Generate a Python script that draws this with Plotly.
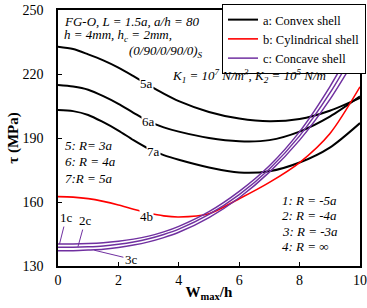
import plotly.graph_objects as go

# ---------------- data ----------------
x_pts = [0, 0.5, 1, 1.5, 2, 2.5, 3, 3.5, 4, 5, 6, 7, 8, 9, 10]

# a: convex shell (R = 3a, 4a, 5a)
tau_5a = [232.8, 231.7, 229.2, 226.4, 223.0, 219.0, 214.8, 210.8, 207.3, 202.2, 199.1, 197.8, 198.9, 202.8, 208.8]
tau_6a = [214.8, 214.1, 212.6, 209.6, 206.0, 201.8, 197.8, 195.0, 193.0, 190.0, 188.5, 189.0, 193.0, 200.0, 209.5]
tau_7a = [203.1, 202.6, 200.8, 197.4, 193.5, 189.0, 185.0, 182.0, 179.8, 176.2, 173.8, 174.4, 178.5, 185.5, 197.0]

# b: cylindrical shell (R = inf)
tau_4b = [162.5, 162.3, 161.6, 160.3, 158.6, 156.6, 154.8, 153.5, 153.0, 154.5, 161.5, 169.2, 178.5, 192.0, 214.0]

# c: concave shell (R = -5a, -4a, -3a)
tau_1c = [140.3, 140.3, 140.5, 140.9, 141.6, 142.6, 144.0, 146.0, 148.6, 155.5, 165.0, 177.0, 193.0, 214.0, 239.0]
tau_2c = [138.8, 138.8, 139.0, 139.4, 140.2, 141.3, 142.8, 144.8, 147.3, 154.2, 163.5, 175.5, 191.0, 211.0, 235.0]
tau_3c = [137.2, 137.2, 137.5, 137.9, 138.7, 139.8, 141.3, 143.3, 145.8, 152.7, 162.0, 174.0, 189.0, 208.0, 231.0]

x_ticks = [0, 2, 4, 6, 8, 10]
y_ticks = [130, 160, 190, 220, 250]

series_a = [("5a", tau_5a), ("6a", tau_6a), ("7a", tau_7a)]
series_c = [("1c", tau_1c), ("2c", tau_2c), ("3c", tau_3c)]

BLACK = "#000000"
RED = "#ff0000"
PURPLE = "#7030a0"
FONT = "Liberation Serif"

fig = go.Figure()

for i, (nm, ys) in enumerate(series_a):
    fig.add_trace(go.Scatter(x=x_pts, y=ys, mode="lines", line=dict(color=BLACK, width=2, shape="spline", smoothing=0.8),
                             name="a: Convex shell", showlegend=(i == 0)))
fig.add_trace(go.Scatter(x=x_pts, y=tau_4b, mode="lines", line=dict(color=RED, width=1.6, shape="spline", smoothing=0.8),
                         name="b: Cylindrical shell"))
for i, (nm, ys) in enumerate(series_c):
    fig.add_trace(go.Scatter(x=x_pts, y=ys, mode="lines", line=dict(color=PURPLE, width=1.5, shape="spline", smoothing=0.8),
                             name="c: Concave shell", showlegend=(i == 0)))

ann = []
# curve labels with white background (creates gaps in lines)
for txt, xx, yy in [("5a", 2.94, 215.6), ("6a", 2.98, 197.6), ("7a", 3.15, 183.6), ("4b", 2.94, 153.1)]:
    ann.append(dict(x=xx, y=yy, text=txt, showarrow=False, bgcolor="white", borderpad=0,
                    font=dict(family=FONT, size=13, color="black")))
# concave labels with leader lines
for txt, tipx, tipy, tx, ty in [("1c", 0.05, 140.3, 0.27, 152.7), ("2c", 0.66, 139.0, 0.9, 151.3), ("3c", 1.2, 137.4, 2.43, 133.2)]:
    ann.append(dict(x=tipx, y=tipy, ax=tx, ay=ty, axref="x", ayref="y", text=txt, showarrow=True,
                    arrowhead=0, arrowwidth=1, arrowcolor=PURPLE, standoff=0,
                    font=dict(family=FONT, size=13, color="black")))

# text notes
def note(text, xpx, ypx, anchor="left"):
    return dict(xref="paper", yref="paper", x=(xpx - 58) / 302, y=(266 - ypx) / 256, text=text,
                showarrow=False, xanchor=anchor, yanchor="middle", font=dict(family=FONT, size=13, color="black"))

ann += [
    note("<i>FG-O, L = 1.5a, a/h = 80</i>", 62, 21),
    note("<i>h = 4mm, h<sub>c</sub> = 2mm,</i>", 62, 35),
    note("<i>(0/90/0/90/0)<sub>S</sub></i>", 205, 51, "right"),
    note("<i>K<sub>1</sub> = 10<sup>7</sup> N/m<sup>3</sup>, K<sub>2</sub> = 10<sup>5</sup> N/m</i>", 170, 76),
    note("<i>5: R= 3a</i>", 63, 145),
    note("<i>6: R = 4a</i>", 63, 161.5),
    note("<i>7:R = 5a</i>", 63, 178),
    note("<i>1: R = -5a</i>", 280, 200),
    note("<i>2: R = -4a</i>", 280, 215.5),
    note("<i>3: R = -3a</i>", 280, 231),
    note("<i>4: R = \u221e</i>", 280, 246.5),
]

# white backing under the legend box so curves disappear behind it
LEG_L, LEG_T, LEG_R, LEG_B = 222, 4, 366, 63
shapes = [dict(type="rect", xref="paper", yref="paper", layer="above",
               x0=(LEG_L - 58) / 302, x1=(LEG_R - 58) / 302,
               y0=(266 - LEG_B) / 256, y1=(266 - LEG_T) / 256,
               fillcolor="white", line=dict(width=0))]

fig.update_layout(
    width=367, height=308,
    margin=dict(l=58, r=7, t=10, b=42, pad=0, autoexpand=False),
    paper_bgcolor="white", plot_bgcolor="white",
    font=dict(family=FONT, size=14, color="black"),
    showlegend=True,
    legend=dict(x=(LEG_L - 58) / 302, y=(266 - LEG_T) / 256, xanchor="left", yanchor="top",
                bgcolor="white", bordercolor="black", borderwidth=1,
                font=dict(family=FONT, size=12.5, color="black"),
                tracegroupgap=0, itemwidth=30),
    annotations=ann,
    shapes=shapes,
    xaxis=dict(range=[0, 10], tickvals=x_ticks, ticks="inside", ticklen=4, tickcolor="black",
               showline=True, linecolor="black", linewidth=1.5, mirror=True, showgrid=False, zeroline=False,
               tickfont=dict(family=FONT, size=14), ticklabelstandoff=0,
               title=dict(text="<b>W<sub>max</sub>/h</b>", font=dict(family=FONT, size=15), standoff=0)),
    yaxis=dict(range=[130, 250], tickvals=y_ticks, ticks="inside", ticklen=4, tickcolor="black",
               showline=True, linecolor="black", linewidth=1.5, mirror=True, showgrid=False, zeroline=False,
               tickfont=dict(family=FONT, size=14), ticklabelstandoff=10,
               title=dict(text="<b>\u03c4 (MPa)</b>", font=dict(family=FONT, size=15), standoff=0)),
)

fig.write_html("out.html", config={"displayModeBar": False},
               post_script="document.body.style.margin='0';document.body.style.overflow='hidden';")
